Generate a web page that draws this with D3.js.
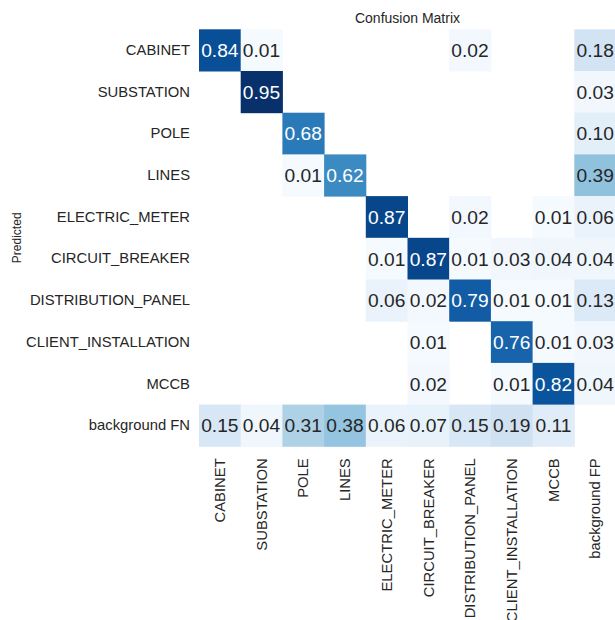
<!DOCTYPE html>
<html>
<head>
<meta charset="utf-8">
<script src="https://cdn.jsdelivr.net/npm/d3@7"></script>
<style>
  html, body { margin: 0; padding: 0; background: #fff; overflow: hidden; }
  svg { display: block; font-family: "Liberation Sans", Arial, sans-serif; }
</style>
</head>
<body>
<svg id="chart" width="615" height="620"></svg>
<script>
// Class names shared by both axes
const predictedLabels = ["CABINET", "SUBSTATION", "POLE", "LINES", "ELECTRIC_METER",
  "CIRCUIT_BREAKER", "DISTRIBUTION_PANEL", "CLIENT_INSTALLATION", "MCCB", "background FN"];
const trueLabels = ["CABINET", "SUBSTATION", "POLE", "LINES", "ELECTRIC_METER",
  "CIRCUIT_BREAKER", "DISTRIBUTION_PANEL", "CLIENT_INSTALLATION", "MCCB", "background FP"];

// Normalised confusion matrix, one array per predicted row (null = empty cell)
const rowCabinet      = [0.84, 0.01, null, null, null, null, 0.02, null, null, 0.18];
const rowSubstation   = [null, 0.95, null, null, null, null, null, null, null, 0.03];
const rowPole         = [null, null, 0.68, null, null, null, null, null, null, 0.10];
const rowLines        = [null, null, 0.01, 0.62, null, null, null, null, null, 0.39];
const rowElectric     = [null, null, null, null, 0.87, null, 0.02, null, 0.01, 0.06];
const rowBreaker      = [null, null, null, null, 0.01, 0.87, 0.01, 0.03, 0.04, 0.04];
const rowPanel        = [null, null, null, null, 0.06, 0.02, 0.79, 0.01, 0.01, 0.13];
const rowClient       = [null, null, null, null, null, 0.01, null, 0.76, 0.01, 0.03];
const rowMccb         = [null, null, null, null, null, 0.02, null, 0.01, 0.82, 0.04];
const rowBackgroundFN = [0.15, 0.04, 0.31, 0.38, 0.06, 0.07, 0.15, 0.19, 0.11, null];

const matrix = [rowCabinet, rowSubstation, rowPole, rowLines, rowElectric,
  rowBreaker, rowPanel, rowClient, rowMccb, rowBackgroundFN];

const cells = [];
matrix.forEach((row, r) => row.forEach((v, c) => {
  if (v !== null) cells.push({ row: predictedLabels[r], col: trueLabels[c], value: v });
}));

const svg = d3.select("#chart");
const gridLeft = 199, gridTop = 29.3, gridSize = 417;
const labelFont = 14.8;

const x = d3.scaleBand().domain(trueLabels).range([gridLeft, gridLeft + gridSize]);
const y = d3.scaleBand().domain(predictedLabels).range([gridTop, gridTop + gridSize]);

// Blues colormap, linear between the nine ColorBrewer stops
const bluesStops = ["#f7fbff", "#deebf7", "#c6dbef", "#9ecae1", "#6baed6",
  "#4292c6", "#2171b5", "#08519c", "#08306b"];
const vmax = d3.max(cells, d => d.value);
const color = d3.scaleLinear()
  .domain(bluesStops.map((_, i) => i / (bluesStops.length - 1) * vmax))
  .range(bluesStops)
  .interpolate(d3.interpolateRgb)
  .clamp(true);

function luminance(c) {
  const rgb = d3.rgb(c);
  const f = u => { u /= 255; return u <= 0.03928 ? u / 12.92 : Math.pow((u + 0.055) / 1.055, 2.4); };
  return 0.2126 * f(rgb.r) + 0.7152 * f(rgb.g) + 0.0722 * f(rgb.b);
}

svg.append("g").selectAll("rect")
  .data(cells)
  .join("rect")
  .attr("x", d => x(d.col))
  .attr("y", d => y(d.row))
  .attr("width", x.bandwidth() + 0.5)
  .attr("height", y.bandwidth() + 0.5)
  .attr("fill", d => color(d.value));

svg.append("g").selectAll("text")
  .data(cells)
  .join("text")
  .attr("x", d => x(d.col) + x.bandwidth() / 2)
  .attr("y", d => y(d.row) + y.bandwidth() / 2)
  .attr("dy", "0.36em")
  .attr("text-anchor", "middle")
  .attr("font-size", 19.2)
  .attr("fill", d => luminance(color(d.value)) > 0.408 ? "#262626" : "#ffffff")
  .text(d => d.value.toFixed(2));

// Row axis (predicted)
const yAxis = svg.append("g")
  .attr("transform", `translate(${gridLeft},0)`)
  .call(d3.axisLeft(y).tickSize(0).tickPadding(9));
yAxis.select(".domain").remove();
yAxis.selectAll("text")
  .attr("font-size", labelFont)
  .attr("font-family", "'Liberation Sans', Arial, sans-serif")
  .attr("fill", "#262626");

// Column axis (true), labels rotated
const xAxis = svg.append("g")
  .attr("transform", `translate(0,${gridTop + gridSize})`)
  .call(d3.axisBottom(x).tickSize(0).tickPadding(0));
xAxis.select(".domain").remove();
xAxis.selectAll("text")
  .attr("font-size", labelFont)
  .attr("font-family", "'Liberation Sans', Arial, sans-serif")
  .attr("fill", "#262626")
  .attr("text-anchor", "end")
  .attr("transform", "translate(0,12) rotate(-90)")
  .attr("x", 0)
  .attr("y", 0)
  .attr("dy", "0.35em");

// Titles
svg.append("text")
  .attr("x", gridLeft + gridSize / 2)
  .attr("y", 23)
  .attr("text-anchor", "middle")
  .attr("font-size", 14)
  .attr("fill", "#262626")
  .text("Confusion Matrix");

svg.append("text")
  .attr("transform", `translate(21,${gridTop + gridSize / 2}) rotate(-90)`)
  .attr("text-anchor", "middle")
  .attr("font-size", 12)
  .attr("fill", "#262626")
  .text("Predicted");
</script>
</body>
</html>
